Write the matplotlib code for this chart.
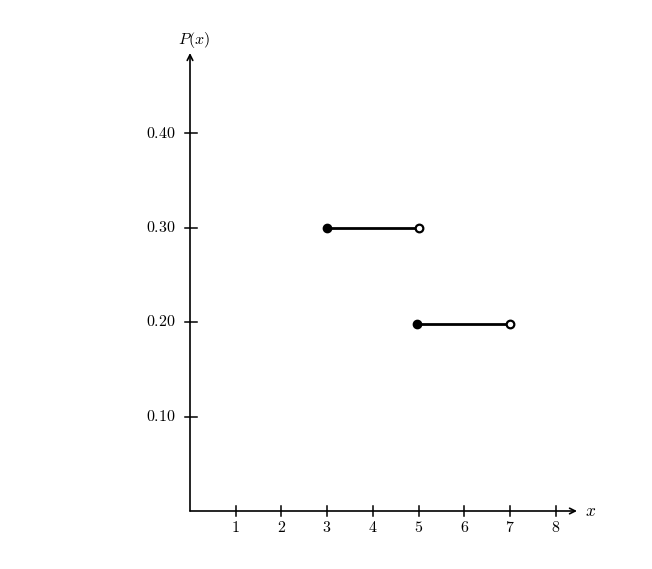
import matplotlib
matplotlib.use("Agg")
import matplotlib.pyplot as plt

plt.rcParams['mathtext.fontset'] = 'cm'
plt.rcParams['font.family'] = ['DejaVu Serif']

# data
seg_x_start = [3, 4.97]
seg_x_end = [5.02, 7.01]
seg_y = [0.30, 0.198]
x_ticks = [1, 2, 3, 4, 5, 6, 7, 8]
y_ticks = [0.10, 0.20, 0.30, 0.40]
y_tick_labels = ['0.10', '0.20', '0.30', '0.40']

W, H = 652, 569
fig = plt.figure(figsize=(W / 100, H / 100), dpi=100)
x0, y0 = 190, 511
x1, y1 = 577, 53
ax = fig.add_axes([x0 / W, 1 - y0 / H, (x1 - x0) / W, (y0 - y1) / H])
ux = 45.7
uy = 945.0
ax.set_xlim(0, (x1 - x0) / ux)
ax.set_ylim(0, (y0 - y1) / uy)
for s in ax.spines.values():
    s.set_visible(False)
ax.set_xticks([])
ax.set_yticks([])

# axes arrows
ax.annotate('', xy=((x1 - x0) / ux, 0), xytext=(0, 0),
            arrowprops=dict(arrowstyle='->', lw=1.2, color='black', shrinkA=0, shrinkB=0),
            annotation_clip=False)
ax.annotate('', xy=(0, (y0 - y1) / uy), xytext=(0, 0),
            arrowprops=dict(arrowstyle='->', lw=1.2, color='black', shrinkA=0, shrinkB=0),
            annotation_clip=False)

# ticks
tx = 5 / ux
ty = 5 / uy
for xv in x_ticks:
    ax.plot([xv, xv], [-ty, ty], color='black', lw=1.1, clip_on=False)
    ax.text(xv, -16 / uy, rf'${xv}$', ha='center', va='center', fontsize=11.5)
for yv, lab in zip(y_ticks, y_tick_labels):
    ax.plot([-tx, tx * 1.4], [yv, yv], color='black', lw=1.1, clip_on=False)
    ax.text(-14 / ux, yv, rf'${lab}$', ha='right', va='center', fontsize=11.5)

ax.text(4 / ux, (y0 - 40) / uy, r'$P(x)$', ha='center', va='center', fontsize=11.5)
ax.text((591 - x0) / ux, 0, r'$x$', ha='center', va='center', fontsize=12.5)

# segments
for xs, xe, yv in zip(seg_x_start, seg_x_end, seg_y):
    ax.plot([xs, xe], [yv, yv], color='black', lw=2.0, solid_capstyle='butt')
    ax.plot([xs], [yv], 'o', color='black', ms=6)
    ax.plot([xe], [yv], 'o', markerfacecolor='white', markeredgecolor='black', ms=5.5, mew=1.6)

fig.savefig('out.png', dpi=100)
